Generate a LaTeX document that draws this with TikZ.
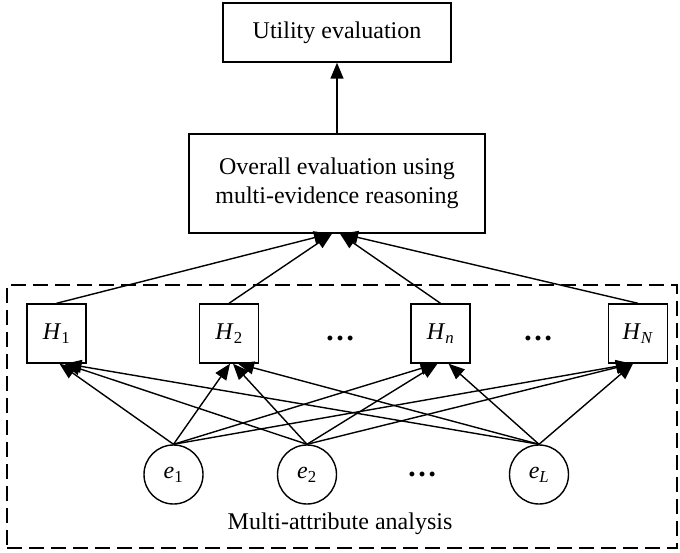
\documentclass[tikz,border=0pt]{standalone}
\usepackage{fontspec}
\setmainfont{Liberation Serif}
\usetikzlibrary{arrows.meta}
\tikzset{
  box/.style={draw, line width=1.4pt, rectangle, inner sep=0pt, align=center},
  hyp/.style={box, minimum width=59pt, minimum height=59pt},
  evid/.style={draw, line width=1.4pt, circle, minimum size=59pt, inner sep=0pt},
  link/.style={line width=1.4pt, -{Triangle[length=16pt,width=13pt]}},
  dotsnode/.style={inner sep=0pt, font=\fontsize{30}{30}\selectfont\bfseries}
}
\newcommand{\hsym}[1]{\textit{H}\textsubscript{#1}}
\newcommand{\esym}[1]{\textit{e}\textsubscript{#1}}
\begin{document}
\begin{tikzpicture}[x=1pt,y=-1pt,font=\fontsize{24}{29}\selectfont]
\useasboundingbox (0,0) rectangle (680,553);

% top level boxes
\node[box, minimum width=228pt, minimum height=59pt] (util) at (337,32.5) {Utility evaluation};
\node[box, minimum width=296pt, minimum height=99pt] (over) at (337,183.5)
  {Overall evaluation using\\multi-evidence reasoning};

% dashed frame of the multi-attribute stage
\node[draw, dashed, dash pattern=on 15pt off 7pt, line width=1.4pt, minimum width=670pt,
      minimum height=263pt, inner sep=0pt] (frame) at (342,416.5) {};
\node (mlabel) at (340,524) {Multi-attribute analysis};

% evaluation grades
\node[hyp] (h1) at (56.5,333.5) {\hsym{1}};
\node[hyp] (h2) at (229,333.5) {\hsym{2}};
\node[hyp] (hn) at (440.5,333.5) {\hsym{\textit{n}}};
\node[hyp] (hN) at (638,333.5) {\hsym{\textit{N}}};
\node[dotsnode] (d1) at (340,338) {…};
\node[dotsnode] (d2) at (538,338) {…};

% pieces of evidence
\node[evid] (e1) at (173.5,474.5) {\esym{1}};
\node[evid] (e2) at (307,474.5) {\esym{2}};
\node[evid] (eL) at (539,474.5) {\esym{\textit{L}}};
\node[dotsnode] (d3) at (422,474) {…};

% aggregation into the overall evaluation
\draw[link] (over.north) -- (util.south);
\draw[link] (h1.north) -- ([xshift=-7pt]over.south);
\draw[link] (h2.north) -- ([xshift=-5pt]over.south);
\draw[link] (hn.north) -- ([xshift=3pt]over.south);
\draw[link] (hN.north) -- ([xshift=5pt]over.south);

% evidence to grades
\draw[link] (e1.north) -- ([xshift=3pt]h1.south);
\draw[link] (e2.north) -- ([xshift=8pt]h1.south);
\draw[link] (eL.north) -- ([xshift=9pt]h1.south);
\draw[link] (e1.north) -- ([xshift=1pt]h2.south);
\draw[link] (e2.north) -- ([xshift=4pt]h2.south);
\draw[link] (eL.north) -- ([xshift=9pt]h2.south);
\draw[link] (e1.north) -- ([xshift=-4pt]hn.south);
\draw[link] (e2.north) -- ([xshift=-3pt]hn.south);
\draw[link] (eL.north) -- ([xshift=8pt]hn.south);
\draw[link] (e1.north) -- ([xshift=-6pt]hN.south);
\draw[link] (e2.north) -- ([xshift=-6pt]hN.south);
\draw[link] (eL.north) -- ([xshift=-5pt]hN.south);
\end{tikzpicture}
\end{document}
